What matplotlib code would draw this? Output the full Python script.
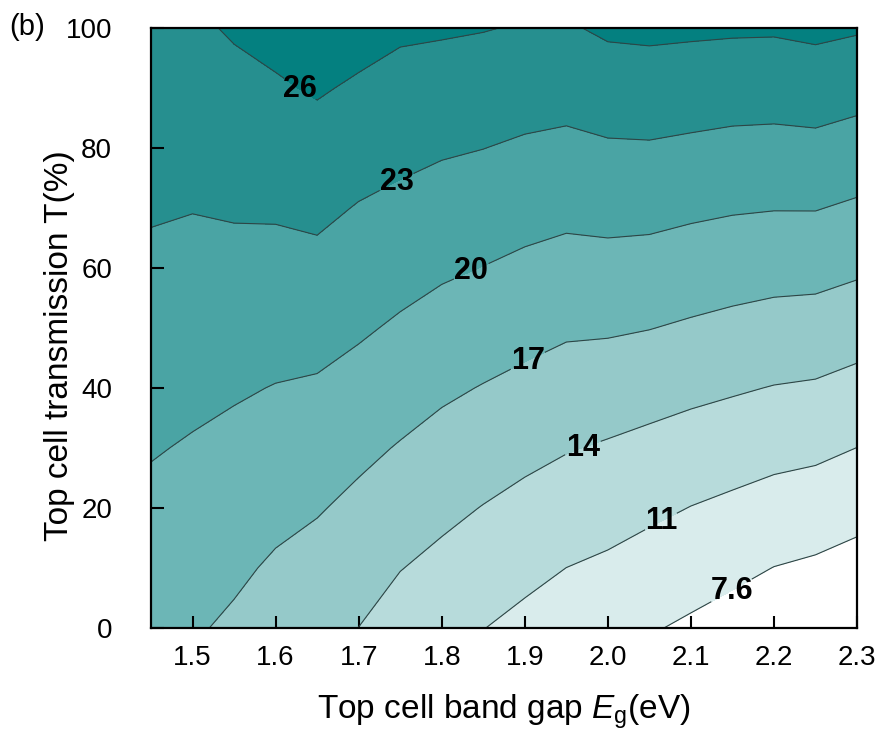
import numpy as np
import matplotlib
matplotlib.use("Agg")
import matplotlib.pyplot as plt
from matplotlib.colors import ListedColormap, BoundaryNorm

plt.rcParams["font.family"] = ["Liberation Sans", "DejaVu Sans"]
plt.rcParams["mathtext.fontset"] = "custom"
plt.rcParams["mathtext.rm"] = "Liberation Sans"
plt.rcParams["mathtext.it"] = "Liberation Sans:italic"

# Top cell band gap (eV) and top cell transmission (%)
band_gap = [1.45, 1.50, 1.55, 1.60, 1.65, 1.70, 1.75, 1.80, 1.85,
            1.90, 1.95, 2.00, 2.05, 2.10, 2.15, 2.20, 2.25, 2.30]
transmission = [0, 10, 20, 30, 40, 50, 60, 70, 80, 90, 100]

# Tandem efficiency (%), one row per transmission value
efficiency = [
    [17.87, 17.30, 16.56, 15.55, 14.73, 13.98, 12.71, 11.90, 11.05, 10.26, 9.42, 8.91, 7.86, 7.12, 6.30, 5.29, 4.76, 4.11],
    [18.64, 18.12, 17.48, 16.64, 15.97, 15.16, 14.08, 13.28, 12.46, 11.74, 10.99, 10.52, 9.77, 9.03, 8.36, 7.55, 7.09, 6.41],
    [19.41, 18.95, 18.41, 17.73, 17.21, 16.35, 15.45, 14.66, 13.91, 13.22, 12.58, 12.12, 11.59, 10.94, 10.42, 9.82, 9.42, 8.70],
    [20.18, 19.78, 19.33, 18.82, 18.43, 17.63, 16.82, 16.05, 15.40, 14.74, 14.16, 13.73, 13.26, 12.78, 12.37, 11.94, 11.65, 10.98],
    [20.95, 20.60, 20.28, 19.91, 19.69, 19.01, 18.23, 17.46, 16.88, 16.32, 15.76, 15.50, 15.10, 14.66, 14.28, 13.90, 13.69, 13.11],
    [21.72, 21.43, 21.27, 21.04, 20.98, 20.36, 19.63, 18.94, 18.42, 17.89, 17.38, 17.31, 17.06, 16.66, 16.28, 15.94, 15.79, 15.26],
    [22.48, 22.26, 22.26, 22.17, 22.28, 21.61, 21.00, 20.40, 19.95, 19.44, 19.04, 19.10, 18.94, 18.58, 18.26, 18.01, 17.93, 17.43],
    [23.25, 23.08, 23.25, 23.31, 23.60, 22.85, 22.36, 21.84, 21.49, 21.03, 20.70, 20.90, 20.84, 20.50, 20.24, 20.10, 20.11, 19.61],
    [24.02, 23.91, 24.26, 24.50, 24.93, 24.23, 23.72, 23.30, 23.03, 22.63, 22.38, 22.69, 22.75, 22.50, 22.26, 22.17, 22.28, 21.80],
    [24.79, 24.74, 25.27, 25.69, 26.27, 25.64, 25.08, 24.80, 24.48, 24.24, 24.06, 24.56, 24.66, 24.48, 24.29, 24.24, 24.45, 24.02],
    [25.56, 25.56, 26.27, 26.88, 27.60, 27.04, 26.43, 26.30, 26.12, 25.80, 25.73, 26.43, 26.57, 26.45, 26.35, 26.31, 26.60, 26.27],
]

contour_levels = [7.6, 11, 14, 17, 20, 23, 26]
band_colors = ["#ffffff", "#d9ecec", "#b7dbdb", "#95c9c9", "#6cb6b6",
               "#4aa4a4", "#268f8f", "#048080"]
label_spots = [(1.63, 90), (1.747, 74), (1.837, 59), (1.902, 45),
               (1.97, 30), (2.063, 18), (2.15, 6)]

X, Y = np.meshgrid(band_gap, transmission)
Z = np.array(efficiency)

fig = plt.figure(figsize=(8.81, 7.40), dpi=100)
ax = fig.add_axes([0.1714, 0.1514, 0.8014, 0.8108])

fill_levels = [0] + contour_levels + [40]
cmap = ListedColormap(band_colors)
norm = BoundaryNorm(fill_levels, cmap.N)
ax.contourf(X, Y, Z, levels=fill_levels, cmap=cmap, norm=norm)
cs = ax.contour(X, Y, Z, levels=contour_levels, colors="#2e4545",
                linewidths=0.8)
labels = ax.clabel(cs, fmt="%g", manual=label_spots, inline=True,
                   inline_spacing=2, fontsize=22, colors="black")
for t in labels:
    t.set_fontweight("bold")
    t.set_rotation(0)

ax.set_xlim(1.45, 2.3)
ax.set_ylim(0, 100)
ax.set_xticks([1.5, 1.6, 1.7, 1.8, 1.9, 2.0, 2.1, 2.2, 2.3])
ax.set_xticklabels(["1.5", "1.6", "1.7", "1.8", "1.9", "2.0", "2.1", "2.2", "2.3"])
ax.set_yticks([0, 20, 40, 60, 80, 100])
ax.tick_params(direction="in", length=9, width=1.5, labelsize=20,
               top=False, right=False)
ax.tick_params(axis="x", pad=12)
ax.tick_params(axis="y", pad=28)
for s in ax.spines.values():
    s.set_linewidth(1.6)

ax.set_xlabel(r"Top cell band gap $\mathit{E}_\mathrm{g}$(eV)", fontsize=24,
              labelpad=16)
ax.set_ylabel("Top cell transmission T(%)", fontsize=24)
ax.yaxis.set_label_coords(-0.108, 0.47)
fig.text(0.011, 0.963, "(b)", fontsize=21, ha="left", va="center")

fig.savefig("out.png", dpi=100)
